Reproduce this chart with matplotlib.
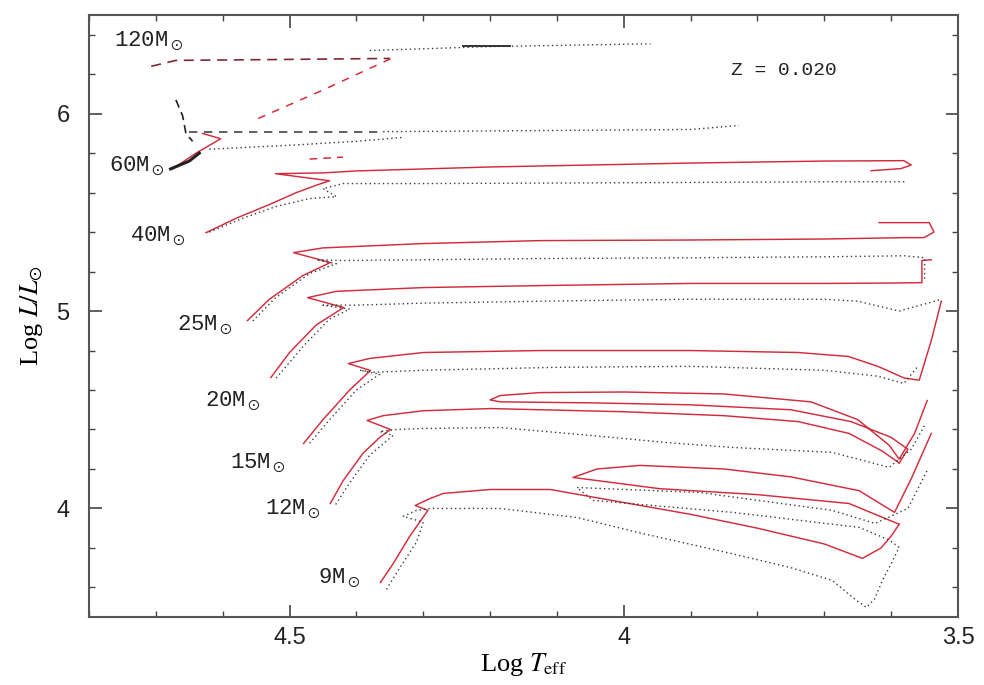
import matplotlib
matplotlib.use("Agg")
import matplotlib.pyplot as plt
from matplotlib.ticker import MultipleLocator

plt.rcParams['mathtext.fontset'] = 'stix'

# ---------------- data (log Teff, log L/Lsun) ----------------
# 9 Msun
t9_rot_T = [4.364, 4.345, 4.32, 4.293, 4.312, 4.290, 4.270, 4.20, 4.11, 4.00, 3.90, 3.80, 3.70, 3.643, 3.615, 3.600, 3.588]
t9_rot_L = [3.625, 3.72, 3.86, 3.99, 4.015, 4.05, 4.076, 4.096, 4.096, 4.03, 3.97, 3.90, 3.82, 3.747, 3.80, 3.86, 3.92]
t9_loop_T = [3.588, 3.663, 3.80, 3.946, 4.076, 4.04, 3.976, 3.85, 3.75, 3.648, 3.595, 3.570, 3.540]
t9_loop_L = [3.92, 4.025, 4.07, 4.10, 4.157, 4.20, 4.218, 4.20, 4.16, 4.09, 3.98, 4.15, 4.38]
t9_nr_T = [4.355, 4.335, 4.31, 4.30, 4.33, 4.31, 4.29, 4.27, 4.185, 4.07, 3.972, 3.85, 3.75, 3.688, 3.652, 3.637, 3.625, 3.613, 3.600, 3.588]
t9_nr_L = [3.59, 3.70, 3.83, 3.93, 3.96, 3.99, 4.00, 4.00, 4.00, 3.954, 3.873, 3.78, 3.70, 3.635, 3.534, 3.499, 3.54, 3.635, 3.72, 3.803]
t9_nrloop_T = [3.588, 3.603, 3.648, 3.837, 4.046, 4.07, 3.887, 3.688, 3.624, 3.575, 3.545]
t9_nrloop_L = [3.803, 3.84, 3.904, 3.98, 4.041, 4.106, 4.081, 3.99, 3.924, 4.00, 4.20]

# 12 Msun
t12_rot_T = [4.439, 4.42, 4.39, 4.365, 4.349, 4.384, 4.36, 4.30, 4.20, 4.00, 3.85, 3.739, 3.663, 3.613, 3.588]
t12_rot_L = [4.025, 4.14, 4.28, 4.36, 4.40, 4.446, 4.47, 4.495, 4.506, 4.49, 4.47, 4.44, 4.38, 4.29, 4.23]
t12_loop_T = [3.588, 3.575, 3.60, 3.66, 3.75, 3.90, 4.05, 4.185, 4.20, 4.185, 4.125, 4.00, 3.85, 3.72, 3.65, 3.603, 3.588, 3.565, 3.546]
t12_loop_L = [4.23, 4.30, 4.36, 4.44, 4.50, 4.525, 4.535, 4.54, 4.55, 4.572, 4.587, 4.59, 4.58, 4.54, 4.45, 4.32, 4.25, 4.38, 4.547]
t12_nr_T = [4.431, 4.41, 4.38, 4.345, 4.365, 4.34, 4.30, 4.185, 4.05, 3.936, 3.837, 3.688, 3.603, 3.57, 3.55]
t12_nr_L = [4.02, 4.13, 4.27, 4.37, 4.39, 4.40, 4.405, 4.41, 4.37, 4.334, 4.309, 4.284, 4.208, 4.30, 4.42]

# 15 Msun
t15_rot_T = [4.479, 4.45, 4.41, 4.379, 4.412, 4.38, 4.30, 4.125, 3.90, 3.739, 3.664, 3.62, 3.58, 3.558, 3.54, 3.525]
t15_rot_L = [4.329, 4.45, 4.60, 4.699, 4.734, 4.76, 4.79, 4.80, 4.80, 4.79, 4.77, 4.72, 4.66, 4.65, 4.85, 5.05]
t15_nr_T = [4.47, 4.44, 4.40, 4.365, 4.395, 4.372, 4.30, 4.10, 3.90, 3.70, 3.62, 3.581, 3.56]
t15_nr_L = [4.33, 4.45, 4.60, 4.68, 4.70, 4.69, 4.70, 4.715, 4.72, 4.70, 4.67, 4.633, 4.72]

# 20 Msun
t20_rot_T = [4.528, 4.50, 4.46, 4.419, 4.473, 4.43, 4.30, 4.125, 3.90, 3.70, 3.60, 3.554, 3.554, 3.54]
t20_rot_L = [4.663, 4.79, 4.93, 5.018, 5.068, 5.10, 5.119, 5.129, 5.14, 5.14, 5.142, 5.144, 5.256, 5.26]
t20_nr_T = [4.52, 4.48, 4.44, 4.41, 4.45, 4.40, 4.30, 4.125, 3.90, 3.70, 3.65, 3.588, 3.524]
t20_nr_L = [4.66, 4.82, 4.96, 5.01, 5.03, 5.03, 5.04, 5.05, 5.06, 5.06, 5.05, 5.00, 5.06]

# 25 Msun
t25_rot_T = [4.563, 4.53, 4.48, 4.439, 4.494, 4.45, 4.30, 4.125, 3.90, 3.70, 3.58, 3.551, 3.536, 3.543, 3.618]
t25_rot_L = [4.952, 5.06, 5.18, 5.246, 5.296, 5.32, 5.342, 5.357, 5.36, 5.365, 5.372, 5.372, 5.40, 5.448, 5.448]
t25_nr_T = [4.555, 4.52, 4.47, 4.43, 4.46, 4.42, 4.30, 4.125, 3.90, 3.70, 3.58, 3.55, 3.55]
t25_nr_L = [4.95, 5.07, 5.19, 5.24, 5.26, 5.256, 5.26, 5.266, 5.27, 5.275, 5.28, 5.27, 5.15]

# 40 Msun
t40_rot_T = [4.625, 4.58, 4.53, 4.49, 4.458, 4.44, 4.521, 4.45, 4.40, 4.20, 3.90, 3.70, 3.581, 3.57, 3.585, 3.63]
t40_rot_L = [5.397, 5.47, 5.54, 5.60, 5.64, 5.66, 5.696, 5.70, 5.71, 5.73, 5.75, 5.76, 5.762, 5.74, 5.722, 5.711]
t40_nr_T = [4.62, 4.57, 4.52, 4.47, 4.43, 4.45, 4.42, 4.30, 4.0, 3.70, 3.58]
t40_nr_L = [5.40, 5.47, 5.53, 5.57, 5.58, 5.62, 5.646, 5.646, 5.65, 5.655, 5.655]

# 60 Msun
t60_rot_T = [4.675, 4.64, 4.603, 4.63]
t60_rot_L = [5.72, 5.80, 5.873, 5.90]
t60_solid_T = [4.678, 4.65, 4.635]
t60_solid_L = [5.72, 5.76, 5.80]
t60_up_T = [4.67, 4.66, 4.655, 4.645]
t60_up_L = [6.07, 5.99, 5.90, 5.86]
t60_dash_T = [4.65, 4.36]
t60_dash_L = [5.909, 5.909]
t60_dot_T = [4.36, 4.10, 3.90, 3.828]
t60_dot_L = [5.909, 5.915, 5.92, 5.94]
t60_nr_T = [4.62, 4.50, 4.40, 4.33]
t60_nr_L = [5.82, 5.84, 5.86, 5.88]
t60_low_T = [4.47, 4.42]
t60_low_L = [5.77, 5.78]

# 120 Msun
t120_dash_T = [4.707, 4.67, 4.50, 4.35]
t120_dash_L = [6.24, 6.27, 6.275, 6.28]
t120_back_T = [4.349, 4.45, 4.554]
t120_back_L = [6.278, 6.12, 5.965]
t120_up_T = [4.38, 4.20, 3.96]
t120_up_L = [6.32, 6.34, 6.354]
t120_seg_T = [4.24, 4.17]
t120_seg_L = [6.345, 6.345]

mass_labels = ["120M$_\\odot$", "60M$_\\odot$", "40M$_\\odot$", "25M$_\\odot$",
               "20M$_\\odot$", "15M$_\\odot$", "12M$_\\odot$", "9M$_\\odot$"]
label_T = [4.66, 4.687, 4.655, 4.585, 4.543, 4.506, 4.454, 4.394]
label_L = [6.37, 5.737, 5.38, 4.93, 4.545, 4.23, 4.00, 3.65]

xticks = [4.5, 4.0, 3.5]
xticklabels = ["4.5", "4", "3.5"]
yticks = [4, 5, 6]
yticklabels = ["4", "5", "6"]

# ---------------- plotting ----------------
RED = '#d22c3c'
DOT = '#3a3a3a'

fig = plt.figure(figsize=(9.84, 6.85), dpi=100)
ax = fig.add_axes([89/984, 68/685, 869/984, 602/685])

def red(T, L, lw=1.05, ls='-'):
    ax.plot(T, L, color=RED, lw=lw, ls=ls, solid_joinstyle='round')

def dot(T, L, lw=1.0):
    ax.plot(T, L, color=DOT, lw=lw, ls=(0, (1, 2.2)))

red(t9_rot_T, t9_rot_L); red(t9_loop_T, t9_loop_L)
dot(t9_nr_T, t9_nr_L); dot(t9_nrloop_T, t9_nrloop_L)
red(t12_rot_T, t12_rot_L); red(t12_loop_T, t12_loop_L)
dot(t12_nr_T, t12_nr_L)
red(t15_rot_T, t15_rot_L); dot(t15_nr_T, t15_nr_L)
red(t20_rot_T, t20_rot_L); dot(t20_nr_T, t20_nr_L)
red(t25_rot_T, t25_rot_L); dot(t25_nr_T, t25_nr_L)
red(t40_rot_T, t40_rot_L); dot(t40_nr_T, t40_nr_L)

red(t60_rot_T, t60_rot_L)
ax.plot(t60_solid_T, t60_solid_L, color='#222222', lw=2.2)
ax.plot(t60_up_T, t60_up_L, color='#222222', lw=1.2, ls=(0, (5, 3)))
ax.plot(t60_dash_T, t60_dash_L, color='#444444', lw=1.2, ls=(0, (5, 4)))
dot(t60_dot_T, t60_dot_L)
dot(t60_nr_T, t60_nr_L)
ax.plot(t60_low_T, t60_low_L, color=RED, lw=1.1, ls=(0, (5, 4)))

ax.plot(t120_dash_T, t120_dash_L, color='#7a2a30', lw=1.2, ls=(0, (6, 4)))
ax.plot(t120_back_T, t120_back_L, color=RED, lw=1.1, ls=(0, (5, 5)))
dot(t120_up_T, t120_up_L)
ax.plot(t120_seg_T, t120_seg_L, color='#333333', lw=1.4)

for s, T, L in zip(mass_labels, label_T, label_L):
    ax.text(T, L, s, ha='right', va='center', fontsize=16,
            fontfamily='Liberation Mono', color='#222222')

ax.text(3.84, 6.22, "Z = 0.020", fontsize=14, fontfamily='Liberation Mono',
        color='#222222', ha='left', va='center')

ax.set_xlim(4.8, 3.5)
ax.set_ylim(3.45, 6.5)
ax.set_xticks(xticks)
ax.set_xticklabels(xticklabels)
ax.set_yticks(yticks)
ax.set_yticklabels(yticklabels)
ax.xaxis.set_minor_locator(MultipleLocator(0.1))
ax.yaxis.set_minor_locator(MultipleLocator(0.2))
ax.tick_params(which='both', direction='in', top=True, right=True, color='#444444')
ax.tick_params(which='major', length=9, width=1.2, labelsize=17)
ax.tick_params(axis='x', which='major', pad=7)
ax.tick_params(axis='y', which='major', pad=14)
ax.tick_params(which='minor', length=4, width=1.0)
for lab in ax.get_xticklabels() + ax.get_yticklabels():
    lab.set_fontfamily('Liberation Sans')
    lab.set_color('#222222')
for sp in ax.spines.values():
    sp.set_color('#555555')
    sp.set_linewidth(1.5)

ax.set_xlabel("Log $T_{\\rm eff}$", fontsize=19, fontfamily='Liberation Serif', labelpad=2)
ax.set_ylabel("Log $L/L_{\\odot}$", fontsize=19, fontfamily='Liberation Serif', labelpad=8)

fig.savefig("out.png", dpi=100)
